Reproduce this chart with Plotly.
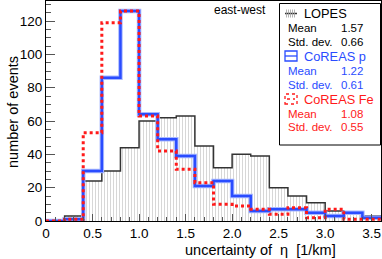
import plotly.graph_objects as go

# ---- data ----
bin_edges = [0.0, 0.2, 0.4, 0.6, 0.8, 1.0, 1.2, 1.4, 1.6, 1.8, 2.0, 2.2, 2.4, 2.6, 2.8, 3.0, 3.2, 3.4, 3.6]
lopes = [0, 3, 24, 30, 44, 60, 62, 63, 45, 32, 40, 39, 20, 15, 11, 6, 5, 3]
coreas_p = [0, 1, 30, 86, 126, 64, 49, 39, 21, 24, 15, 6, 7, 7, 5, 3, 5, 2]
coreas_fe = [0, 1, 53, 119, 126, 63, 42, 31, 23, 10, 9, 7, 4, 8, 2, 7, 1, 1]
x_ticks = [0, 0.5, 1.0, 1.5, 2.0, 2.5, 3.0, 3.5]
x_ticklabels = ["0", "0.5", "1.0", "1.5", "2.0", "2.5", "3.0", "3.5"]
y_ticks = [0, 20, 40, 60, 80, 100, 120]
stats = {
    "LOPES": ("1.57", "0.66"),
    "CoREAS p": ("1.22", "0.61"),
    "CoREAS Fe": ("1.08", "0.55"),
}

W, H = 382, 259
L, R, T, B = 46, 1, 1, 38
PW, PH = W - L - R, H - T - B


def px(x):
    return (x - L) / PW


def py(y):
    return (H - B - y) / PH


centers = [(a + b) / 2 for a, b in zip(bin_edges[:-1], bin_edges[1:])]
widths = [b - a for a, b in zip(bin_edges[:-1], bin_edges[1:])]


def step(vals):
    return list(bin_edges), list(vals) + [vals[-1]]


fig = go.Figure()
fig.add_trace(go.Bar(
    x=centers, y=lopes, width=widths,
    marker=dict(color="white", line=dict(width=0),
                pattern=dict(shape="|", fgcolor="#b0b0b0", bgcolor="white", size=3, solidity=0.35)),
    showlegend=False, hoverinfo="skip"))
sx, sy = step(lopes)
fig.add_trace(go.Scatter(x=sx, y=sy, mode="lines", line=dict(shape="hv", color="#333333", width=1.5),
                         showlegend=False))
sx, sy = step(coreas_p)
fig.add_trace(go.Scatter(x=sx, y=sy, mode="lines", line=dict(shape="hv", color="#a8b8ff", width=4.5),
                         showlegend=False))
fig.add_trace(go.Scatter(x=sx, y=sy, mode="lines", line=dict(shape="hv", color="#2a4cff", width=2.5),
                         showlegend=False))
sx, sy = step(coreas_fe)
fig.add_trace(go.Scatter(x=sx, y=sy, mode="lines", line=dict(shape="hv", color="#ff1a1a", width=3, dash="dot"),
                         showlegend=False))

font = "Liberation Sans, Arial, sans-serif"
shapes = []
annotations = []

# legend box
shapes.append(dict(type="rect", xref="paper", yref="paper", x0=px(279.5), x1=px(380.5), y0=py(145), y1=py(3.5),
                   line=dict(color="black", width=1), fillcolor="white", layer="above"))
# LOPES icon
shapes.append(dict(type="line", xref="paper", yref="paper", x0=px(285), x1=px(297), y0=py(13.5), y1=py(13.5),
                   line=dict(color="#333333", width=1.5), layer="above"))
for xi in [286.5, 288.5, 290.5, 292.5, 294.5]:
    shapes.append(dict(type="line", xref="paper", yref="paper", x0=px(xi), x1=px(xi), y0=py(9.5), y1=py(17.5),
                       line=dict(color="#a0a0a0", width=0.8), layer="above"))
# CoREAS p icon
shapes.append(dict(type="rect", xref="paper", yref="paper", x0=px(285), x1=px(297), y0=py(61), y1=py(51),
                   line=dict(color="#2a4cff", width=1.3), layer="above"))
shapes.append(dict(type="line", xref="paper", yref="paper", x0=px(285), x1=px(297), y0=py(56), y1=py(56),
                   line=dict(color="#2a4cff", width=1.3), layer="above"))
# CoREAS Fe icon
shapes.append(dict(type="rect", xref="paper", yref="paper", x0=px(285), x1=px(297), y0=py(104), y1=py(94),
                   line=dict(color="#ff1a1a", width=1.3, dash="dot"), layer="above"))
shapes.append(dict(type="line", xref="paper", yref="paper", x0=px(287), x1=px(295), y0=py(99), y1=py(99),
                   line=dict(color="#ff1a1a", width=1.5, dash="dot"), layer="above"))


def txt(s, x, y, color="black", size=11.5, anchor="left"):
    annotations.append(dict(text=s, xref="paper", yref="paper", x=px(x), y=py(y), showarrow=False,
                            xanchor=anchor, yanchor="middle", font=dict(family=font, size=size, color=color)))


rows = [("LOPES", "black", 13), ("CoREAS p", "#2a4cff", 56), ("CoREAS Fe", "#ff1a1a", 99)]
for name, col, y0 in rows:
    mean, sd = stats[name]
    txt(name, 302, y0, col, 12.8)
    txt("Mean", 286, y0 + 14.5, col, 11.5)
    txt(mean, 365, y0 + 14.5, col, 11.5, "right")
    txt("Std. dev.", 286, y0 + 28.5, col, 11.5)
    txt(sd, 365, y0 + 28.5, col, 11.5, "right")

txt("east-west", 240, 10, "black", 12, "center")
txt("uncertainty of  η  [1/km]", 260, 250, "black", 14.5, "center")
annotations.append(dict(text="number of events", xref="paper", yref="paper", x=px(13), y=py(112),
                        showarrow=False, textangle=-90, xanchor="center", yanchor="middle",
                        font=dict(family=font, size=14.5, color="black")))

fig.update_layout(
    width=W, height=H, margin=dict(l=L, r=R, t=T, b=B),
    paper_bgcolor="white", plot_bgcolor="white",
    bargap=0, showlegend=False,
    shapes=shapes, annotations=annotations,
    font=dict(family=font, size=13, color="black"),
)
fig.update_xaxes(range=[0, 3.6], tickvals=x_ticks, ticktext=x_ticklabels, ticks="inside", ticklen=7,
                 tickcolor="#555", showline=True, linecolor="black", linewidth=1, mirror=True,
                 showgrid=False, zeroline=False, tickfont=dict(size=13.5),
                 minor=dict(dtick=0.1, ticks="inside", ticklen=4, tickcolor="#555"))
fig.update_yaxes(range=[0, 132], tickvals=y_ticks, ticks="inside", ticklen=9, tickcolor="#555",
                 showline=True, linecolor="black", linewidth=1, mirror=True,
                 showgrid=False, zeroline=False, tickfont=dict(size=13.5),
                 minor=dict(dtick=5, ticks="inside", ticklen=5, tickcolor="#555"))

fig.write_html("out.html", config={"displayModeBar": False, "staticPlot": True})
with open("out.html", "r", encoding="utf-8") as f:
    html = f.read()
html = html.replace("<head>", "<head><style>html,body{margin:0;padding:0;overflow:hidden;}</style>", 1)
with open("out.html", "w", encoding="utf-8") as f:
    f.write(html)
